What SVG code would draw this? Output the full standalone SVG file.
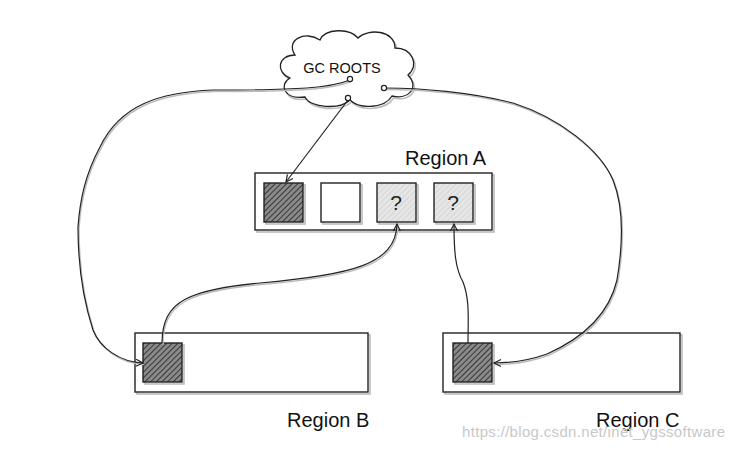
<svg xmlns="http://www.w3.org/2000/svg" width="735" height="450" viewBox="0 0 735 450">
<style>
.box{fill:#fff;stroke:#222;stroke-width:1.4}
.shadow{fill:none;stroke:#bbb;stroke-width:1.6}
.dark{fill:url(#hatchDark);stroke:#222;stroke-width:1.4}
.light{fill:url(#hatchLight);stroke:#222;stroke-width:1.4}
.white{fill:#fff;stroke:#222;stroke-width:1.4}
.conn{fill:none;stroke:#222;stroke-width:1.2}
.connsh{fill:none;stroke:#bbb;stroke-width:1.4}
.lbl{font-family:"Liberation Sans",Arial,sans-serif;font-size:20px;fill:#111}
.q{font-family:"Liberation Sans",Arial,sans-serif;font-size:21px;fill:#222;text-anchor:middle}
.dot{fill:#fff;stroke:#222;stroke-width:1.2}
</style>
<defs>
<pattern id="hatchDark" patternUnits="userSpaceOnUse" width="4" height="4" patternTransform="rotate(45)">
<rect width="4" height="4" fill="#8a8a8a"/>
<line x1="0" y1="0" x2="0" y2="4" stroke="#222" stroke-width="1.6"/>
</pattern>
<pattern id="hatchLight" patternUnits="userSpaceOnUse" width="4" height="4" patternTransform="rotate(45)">
<rect width="4" height="4" fill="#e6e6e6"/>
<line x1="0" y1="0" x2="0" y2="4" stroke="#c4c4c4" stroke-width="1"/>
</pattern>
<marker id="arr" markerWidth="10" markerHeight="10" refX="8" refY="5" orient="auto" markerUnits="userSpaceOnUse">
<path d="M1,1.5 L8,5 L1,8.5" fill="none" stroke="#222" stroke-width="1.2"/>
</marker>
</defs>

<g id="gc-roots">
<path class="shadow" transform="translate(1.5,2)" d="M295,55 C285,40 305,30 320,40 C325,28 350,28 358,38 C368,28 395,30 395,48 C412,48 420,65 408,75 C420,88 408,100 392,96 C385,108 360,110 350,100 C340,110 310,108 305,97 C285,100 278,85 290,78 C275,72 278,55 295,55 Z"/>
<path fill="#fff" stroke="#222" stroke-width="1.3" d="M295,55 C285,40 305,30 320,40 C325,28 350,28 358,38 C368,28 395,30 395,48 C412,48 420,65 408,75 C420,88 408,100 392,96 C385,108 360,110 350,100 C340,110 310,108 305,97 C285,100 278,85 290,78 C275,72 278,55 295,55 Z"/>
<text x="342" y="73" font-family="'Liberation Sans',Arial,sans-serif" font-size="14.5" fill="#111" text-anchor="middle">GC ROOTS</text>
</g>

<g id="region-a">
<rect class="shadow" x="257" y="175" width="237" height="57"/>
<rect class="box" x="255" y="173" width="237" height="57"/>
<text class="lbl" x="405" y="165">Region A</text>
<g id="a1"><rect class="shadow" x="266" y="185" width="39" height="39"/><rect class="dark" x="264" y="183" width="39" height="39"/></g>
<g id="a2"><rect class="shadow" x="323" y="185" width="39" height="39"/><rect class="white" x="321" y="183" width="39" height="39"/></g>
<g id="a3"><rect class="shadow" x="379" y="185" width="39" height="39"/><rect class="light" x="377" y="183" width="39" height="39"/><text class="q" x="396" y="210">?</text></g>
<g id="a4"><rect class="shadow" x="436" y="185" width="39" height="39"/><rect class="light" x="434" y="183" width="39" height="39"/><text class="q" x="453" y="210">?</text></g>
</g>

<g id="region-b">
<rect class="shadow" x="137" y="335" width="233" height="59"/>
<rect class="box" x="135" y="333" width="233" height="59"/>
<g id="b1"><rect class="shadow" x="145" y="345" width="39" height="39"/><rect class="dark" x="143" y="343" width="39" height="39"/></g>
<text class="lbl" x="287" y="427">Region B</text>
</g>

<g id="region-c">
<rect class="shadow" x="445" y="335" width="237" height="59"/>
<rect class="box" x="443" y="333" width="237" height="59"/>
<g id="c1"><rect class="shadow" x="455" y="345" width="39" height="39"/><rect class="dark" x="453" y="343" width="39" height="39"/></g>
<text class="lbl" x="596" y="427">Region C</text>
</g>

<g id="connectors">
<path class="connsh" transform="translate(1,1.5)" d="M350,80 C330,88 300,90 213,90 C160,92 120,105 100,147 C85,175 80,200 78,227 C78,255 80,290 93,330 C100,348 120,362 143,363"/>
<path class="conn" marker-end="url(#arr)" d="M350,80 C330,88 300,90 213,90 C160,92 120,105 100,147 C85,175 80,200 78,227 C78,255 80,290 93,330 C100,348 120,362 143,363"/>
<path class="connsh" transform="translate(1,1.5)" d="M385,88 C420,88 470,92 513,103 C560,118 600,150 613,180 C625,210 622,250 617,280 C610,310 590,335 547,354 C530,360 510,363 494,363"/>
<path class="conn" marker-end="url(#arr)" d="M385,88 C420,88 470,92 513,103 C560,118 600,150 613,180 C625,210 622,250 617,280 C610,310 590,335 547,354 C530,360 510,363 494,363"/>
<path class="conn" marker-end="url(#arr)" d="M348,100 L286,182"/>
<path class="connsh" transform="translate(1,1.5)" d="M162,343 C162,300 190,290 260,283 C350,275 396,265 397,224"/>
<path class="conn" marker-end="url(#arr)" d="M162,343 C162,300 190,290 260,283 C350,275 396,265 397,224"/>
<path class="conn" marker-end="url(#arr)" d="M468,343 C468,320 470,300 463,282 C455,268 454,250 454,224"/>
<circle class="dot" cx="350" cy="79" r="2.6"/>
<circle class="dot" cx="384" cy="88" r="2.6"/>
<circle class="dot" cx="348" cy="98" r="2.6"/>
</g>

<text x="462" y="437" font-family="'Liberation Sans',Arial,sans-serif" font-size="15" fill="#c8c8c8" textLength="263">https://blog.csdn.net/inet_ygssoftware</text>
</svg>
